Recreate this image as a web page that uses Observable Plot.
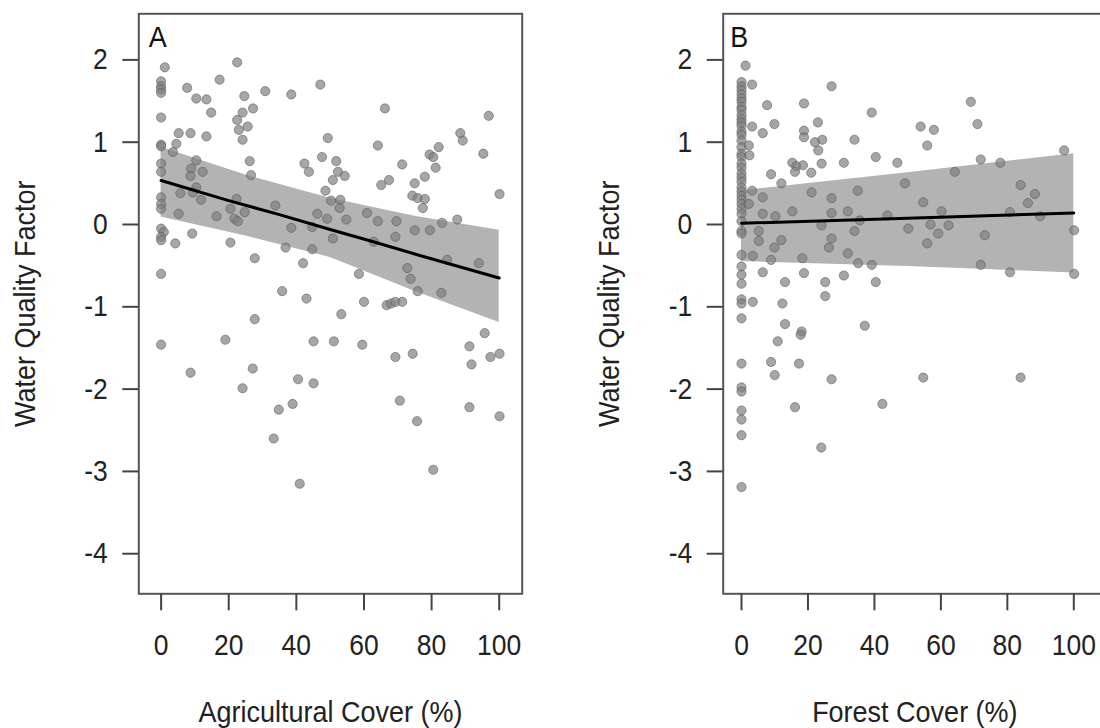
<!DOCTYPE html>
<html><head><meta charset="utf-8">
<script src="https://cdn.jsdelivr.net/npm/d3@7"></script>
<script src="https://cdn.jsdelivr.net/npm/@observablehq/plot@0.6"></script>
<style>
html,body{margin:0;padding:0;background:#fff;overflow:hidden;}
#wrap{position:relative;width:1100px;height:728px;overflow:hidden;background:#fff;}
.panel{position:absolute;top:0;width:560px;height:728px;}
.panel svg{max-width:none !important;}
</style></head><body><div id="wrap"></div>
<script>
const yTicks = [-4, -3, -2, -1, 0, 1, 2];
const xTicks = [0, 20, 40, 60, 80, 100];
const yLabel = "Water Quality Factor";
const agTitle = "Agricultural Cover (%)";
const forTitle = "Forest Cover (%)";

// Panel A: agricultural cover vs water quality factor
const agX = [1.1,22.5,0,0,0,0,7.7,17.3,10.4,13.4,24.6,30.8,38.5,47.1,14.8,24.1,27.2,0,22.5,25.6,23,24.1,5.2,8.7,13.4,49.3,0,0,4.5,3.5,10.4,26.2,47.6,0,8.9,0,12.3,8.7,26.6,42.4,43.7,48.6,10.4,5.7,9.4,0,11.8,0,0,22.3,20.5,24.7,33.8,5.2,16.4,21.7,22.7,46.2,49.1,38.5,0,0.8,0,0,9.2,4.2,20.5,44.7,36.8,
  44.7,27.7,42,0,35.8,43,27.7,19,45.1,0,8.7,27.1,24.1,40.5,45.1,38.9,34.8,33.3,41,
  66.2,96.9,88.5,89.2,64.1,82.1,95.3,51.8,79.4,80.5,71.3,81.2,52.3,54.3,50.8,78,67.4,65.1,75,100.1,74.3,75.9,78,77.4,50.3,53,52.8,60.9,54.8,64.1,69.6,83.1,87.6,75,79.5,50.8,69.3,62.9,
  84.6,94,72.8,73.8,75.9,58.5,82.9,60,66.7,68,69.3,71.3,53.3,51.1,59.5,69.3,74.4,95.7,91.2,91.8,97.4,100.1,70.6,75.7,91.2,100.1,80.5];
const agY = [1.91,1.97,1.74,1.68,1.64,1.60,1.66,1.76,1.53,1.52,1.56,1.62,1.58,1.70,1.36,1.36,1.41,1.30,1.27,1.19,1.15,1.03,1.11,1.11,1.07,1.05,0.97,0.95,0.98,0.88,0.78,0.77,0.82,0.74,0.68,0.64,0.64,0.59,0.60,0.74,0.64,0.41,0.45,0.38,0.39,0.33,0.30,0.25,0.19,0.31,0.19,0.15,0.23,0.13,0.10,0.07,0.04,0.13,0.07,-0.04,-0.05,-0.09,-0.15,-0.19,-0.11,-0.23,-0.22,-0.03,-0.28,
  -0.30,-0.41,-0.47,-0.60,-0.81,-0.90,-1.15,-1.40,-1.42,-1.46,-1.80,-1.75,-1.99,-1.88,-1.93,-2.18,-2.25,-2.60,-3.15,
  1.41,1.32,1.11,1.02,0.96,0.94,0.86,0.77,0.85,0.82,0.73,0.69,0.64,0.59,0.54,0.58,0.54,0.48,0.50,0.37,0.35,0.32,0.31,0.20,0.29,0.30,0.20,0.14,0.06,0.04,0.04,0.02,0.06,-0.07,-0.07,-0.17,-0.15,-0.21,
  -0.43,-0.47,-0.53,-0.66,-0.81,-0.60,-0.83,-0.94,-0.98,-0.96,-0.94,-0.94,-1.09,-1.42,-1.46,-1.61,-1.57,-1.32,-1.48,-1.70,-1.61,-1.57,-2.14,-2.39,-2.22,-2.33,-2.98];
const agFitX = [0, 20, 35, 50, 62, 76, 94, 100];
const agFitY = [0.535, 0.29, 0.12, -0.06, -0.20, -0.37, -0.58, -0.65];
const agBandX = [0, 25, 50, 75, 100];
const agBandLo = [0.09, -0.14, -0.40, -0.81, -1.19];
const agBandHi = [0.94, 0.60, 0.32, 0.10, -0.07];

// Panel B: forest cover vs water quality factor
const forX = [0,0,0,0,0,0,0,0,0,0,0,0,0,0,0,0,0,0,0,0,0,0,0,0,0,0,0,0,0,0,0,0,0,0,0,0,0,0,0,0,0,0,0,0,0,0,0,
  1.2,3.2,7.7,18.8,27.1,39.2,3.2,9.9,6.4,23,18.8,18.8,22.1,24.3,23.1,34,2.2,2.4,15.3,16.5,18.5,16.1,21,24.1,30.8,40.4,46.9,8.9,12,3.2,49.2,21.1,27.1,35,6.4,2.2,15.3,27.1,32,6.4,10.2,43.9,35.6,24.1,5.2,34,50.2,5.2,12,9.9,27.1,26.3,
  3.4,8.9,18.3,32,35.1,39.2,6.4,18.8,13.1,25.2,30.8,40.4,25.2,3.4,12.3,13.1,18.1,17.8,37.1,10.9,8.9,17.3,10,27.1,16.1,42.4,24,
  69,53.9,57.9,71,55.9,97.1,72,77.9,64.2,84,88.3,86.2,54.7,60.2,80.8,89.9,56.9,62.3,59.2,73.2,100.1,55.9,
  72,80.8,100.1,54.7,84];
const forY = [1.73,1.68,1.63,1.58,1.53,1.49,1.43,1.39,1.33,1.28,1.24,1.20,1.13,1.09,1.02,0.94,0.86,0.82,0.74,0.69,0.62,0.57,0.52,0.45,0.40,0.35,0.30,0.25,0.19,0.13,0.04,-0.08,-0.11,-0.37,-0.51,-0.61,-0.72,-0.91,-0.96,-1.14,-1.69,-1.98,-2.03,-2.26,-2.37,-2.56,-3.19,
  1.93,1.70,1.45,1.47,1.68,1.36,1.19,1.22,1.11,1.24,1.14,1.06,1.00,1.03,0.90,1.03,0.96,0.84,0.75,0.71,0.72,0.64,0.63,0.74,0.75,0.82,0.75,0.61,0.50,0.41,0.50,0.39,0.32,0.41,0.33,0.25,0.16,0.14,0.16,0.13,0.10,0.11,0.05,-0.01,-0.08,-0.08,-0.05,-0.20,-0.19,-0.28,-0.17,-0.28,
  -0.38,-0.43,-0.41,-0.35,-0.47,-0.49,-0.58,-0.59,-0.70,-0.70,-0.62,-0.70,-0.87,-0.94,-0.96,-1.21,-1.30,-1.34,-1.23,-1.42,-1.67,-1.69,-1.83,-1.88,-2.22,-2.18,-2.71,
  1.49,1.19,1.15,1.22,0.96,0.90,0.79,0.75,0.64,0.48,0.37,0.26,0.27,0.16,0.15,0.10,0.00,-0.01,-0.11,-0.13,-0.07,-0.23,
  -0.49,-0.58,-0.60,-1.86,-1.86];
const forFitX = [0, 50, 100];
const forFitY = [0.015, 0.075, 0.14];
const forBandX = [0, 50, 100];
const forBandLo = [-0.45, -0.51, -0.59];
const forBandHi = [0.41, 0.63, 0.86];

const FONT = "'Liberation Sans', Arial, Helvetica, sans-serif";
const STRETCH = 1.12;

function panel(o) {
  const pts = o.px.map((x, i) => ({x, y: o.py[i]}));
  const fit = o.fx.map((x, i) => ({x, y: o.fy[i]}));
  const band = o.bx.map((x, i) => ({x, lo: o.blo[i], hi: o.bhi[i]}));
  const svg = Plot.plot({
    width: o.width, height: 728,
    marginTop: 13.3, marginBottom: 728 - 593.3, marginLeft: o.mL, marginRight: o.mR,
    style: {background: "transparent", color: "#333", fontFamily: FONT, overflow: "visible", maxWidth: "none"},
    x: {domain: o.xDomain},
    y: {domain: [-4.487, 2.56]},
    marks: [
      Plot.areaY(band, {x: "x", y1: "lo", y2: "hi", fill: "#b3b3b3"}),
      Plot.dot(pts, {x: "x", y: "y", r: 4.6, fill: "#808080", fillOpacity: 0.7, stroke: "#555", strokeOpacity: 0.55, strokeWidth: 1}),
      Plot.line(fit, {x: "x", y: "y", stroke: "#000", strokeWidth: 3}),
      Plot.frame({stroke: "#555", strokeWidth: 2}),
      Plot.axisX({ticks: xTicks, tickSize: 17, tickPadding: 24, fontSize: 26.5, strokeWidth: 2, stroke: "#444", fill: "#222", label: null, tickFormat: d => String(d)}),
      Plot.axisY({ticks: yTicks, tickSize: 16, tickPadding: 15, fontSize: 26.5, strokeWidth: 2, stroke: "#444", fill: "#222", label: null, tickFormat: d => String(d)}),
      Plot.text([o.xTitle], {frameAnchor: "bottom", dy: 118.5, fontSize: 27, fill: "#222", lineAnchor: "middle", textAnchor: "middle"}),
      Plot.text([yLabel], {frameAnchor: "left", dx: -114, rotate: -90, fontSize: 27, fill: "#222", lineAnchor: "middle", textAnchor: "middle"}),
      Plot.text([o.letter], {frameAnchor: "top-left", dx: o.letterDx, dy: 13, fontSize: 27, fill: "#111", lineAnchor: "top", textAnchor: "start"})
    ]
  });
  svg.style.maxWidth = "none";
  svg.setAttribute("width", o.width);
  svg.setAttribute("height", 728);
  const div = document.createElement("div");
  div.className = "panel";
  div.style.left = o.left + "px";
  div.appendChild(svg);
  document.getElementById("wrap").appendChild(div);
  svg.querySelectorAll("text").forEach(t => {
    const b = t.getBBox();
    const cx = b.x + b.width / 2, cy = b.y + b.height / 2;
    const old = t.getAttribute("transform") || "";
    t.setAttribute("transform", `${old} translate(${cx},${cy}) scale(1,${STRETCH}) translate(${-cx},${-cy})`);
  });
}

panel({left: 0, width: 560, mL: 138.3, mR: 560 - 521.7, xDomain: [-6.6, 106.8],
  px: agX, py: agY, fx: agFitX, fy: agFitY, bx: agBandX, blo: agBandLo, bhi: agBandHi,
  letter: "A", letterDx: 10, xTitle: agTitle});
panel({left: 560, width: 560, mL: 722.7 - 560, mR: 560 - (1106 - 560), xDomain: [-5.51, 109.84],
  px: forX, py: forY, fx: forFitX, fy: forFitY, bx: forBandX, blo: forBandLo, bhi: forBandHi,
  letter: "B", letterDx: 7, xTitle: forTitle});
</script></body></html>
